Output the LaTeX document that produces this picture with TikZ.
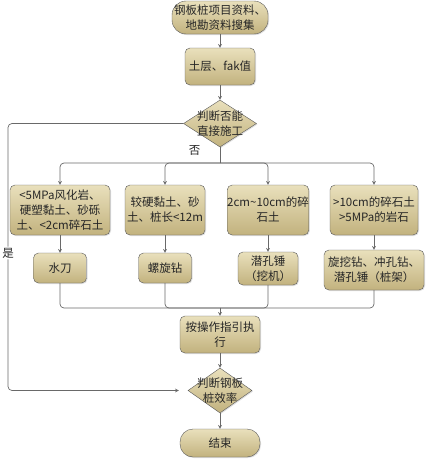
\documentclass[tikz,border=0pt]{standalone}
\usepackage{fontspec}
\newfontfamily\cjk{Noto Sans CJK SC}
\usetikzlibrary{positioning,shapes.geometric,shadows}
\definecolor{boxtop}{RGB}{233,224,188}
\definecolor{boxbot}{RGB}{194,178,126}
\definecolor{edge}{RGB}{90,90,90}
\definecolor{wire}{RGB}{105,105,105}
\tikzstyle{txt} = [font=\cjk\fontsize{11.5}{15}\selectfont, text=black!85, align=center]
\tikzstyle{block} = [txt, draw=edge, rectangle, rounded corners=5pt, inner sep=0pt, top color=boxtop, bottom color=boxbot, drop shadow={opacity=0.25, shadow xshift=1pt, shadow yshift=-1pt}]
\tikzstyle{term} = [block, rounded corners=14pt]
\tikzstyle{decision} = [draw=edge, diamond, inner sep=0pt, top color=boxtop, bottom color=boxbot, drop shadow={opacity=0.25, shadow xshift=1pt, shadow yshift=-1pt}]
\tikzstyle{line} = [draw=wire, line width=0.7pt, rounded corners=4pt]
\begin{document}
\begin{tikzpicture}[x=1pt, y=1pt, auto, >=stealth, node distance=57pt]
        \useasboundingbox (0,0) rectangle (429,-463);
        \node [term, minimum width=96pt, minimum height=33pt] (start) at (220,-17.5) {钢板桩项目资料、\\地勘资料搜集};
        \node [block, below of=start, node distance=49pt, minimum width=70pt, minimum height=37pt] (soil) {土层、fak值};
        \node [decision, below of=soil, minimum width=73pt, minimum height=47pt, label={[txt]center:判断否能\\直接施工}] (judge) {};

        \node [block, minimum width=100pt, minimum height=50pt] (rock) at (60,-210) {<5MPa风化岩、\\硬塑黏土、砂砾\\土、<2cm碎石土};
        \node [block, right of=rock, node distance=105pt, minimum width=80pt, minimum height=50pt] (clay) {较硬黏土、砂\\土、桩长<12m};
        \node [block, right of=clay, node distance=103pt, minimum width=80pt, minimum height=50pt] (gravel) {2cm\textasciitilde10cm的碎\\石土};
        \node [block, right of=gravel, node distance=106pt, minimum width=88pt, minimum height=50pt] (hard) {>10cm的碎石土\\>5MPa的岩石};

        \node [block, below of=rock, node distance=58pt, minimum width=53pt, minimum height=30pt] (jet) {水刀};
        \node [block, below of=clay, node distance=58pt, minimum width=53pt, minimum height=30pt] (auger) {螺旋钻};
        \node [block, below of=gravel, node distance=58.5pt, minimum width=60pt, minimum height=33pt] (dth) {潜孔锤\\（挖机）};
        \node [block, below of=hard, node distance=60pt, minimum width=100pt, minimum height=40pt] (rig) {旋挖钻、冲孔钻、\\潜孔锤（桩架）};

        \node [block, below of=judge, node distance=211pt, minimum width=80pt, minimum height=37pt] (exec) {按操作指引执\\行};
        \node [decision, below of=exec, node distance=56pt, minimum width=64pt, minimum height=45pt, label={[txt]center:判断钢板\\桩效率}] (check) {};
        \node [term, below of=check, node distance=52.5pt, minimum width=80pt, minimum height=28pt, rounded corners=13pt] (finish) {结束};

        \draw [line, ->] (start) -- (soil);
        \draw [line, ->] (soil) -- (judge);

        \coordinate [below of=judge, node distance=39.5pt] (split);
        \draw [line] (judge.south) -- node [txt, left=16pt, pos=0.2] {否} (split);
        \draw [line, ->] (split) -| (rock);
        \draw [line, ->] (split) -| (clay);
        \draw [line, ->] (split) -| (gravel);
        \draw [line, ->] (split) -| (hard);

        \draw [line, ->] (rock) -- (jet);
        \draw [line, ->] (clay) -- (auger);
        \draw [line, ->] (gravel) -- (dth);
        \draw [line, ->] (hard) -- (rig);

        \coordinate [above of=exec, node distance=26.5pt] (merge);
        \draw [line] (jet) |- (merge);
        \draw [line] (auger) |- (merge);
        \draw [line] (dth) |- (merge);
        \draw [line] (rig) |- (merge);
        \draw [line, ->] (merge) -- (exec);

        \node [txt, inner sep=1pt] (yes) at (8,-253) {是};
        \draw [line] (judge.west) -| (yes);
        \draw [line, ->, shorten >=9pt] (yes) |- (check.west);

        \draw [line, ->] (exec) -- (check);
        \draw [line, ->] (check) -- (finish);
\end{tikzpicture}
\end{document}
